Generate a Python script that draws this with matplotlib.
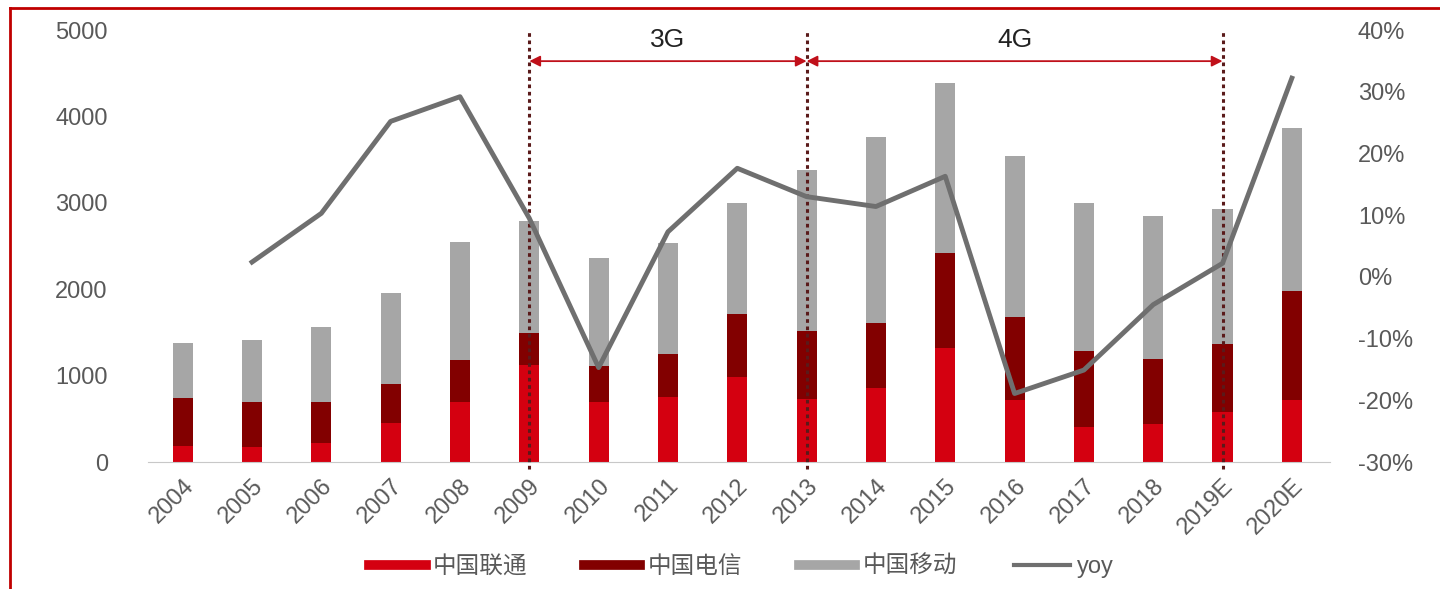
import matplotlib
matplotlib.use("Agg")
import matplotlib.pyplot as plt
import numpy as np
from matplotlib.lines import Line2D

plt.rcParams["font.family"] = ["Liberation Sans", "Noto Sans CJK SC", "DejaVu Sans"]

years = ["2004", "2005", "2006", "2007", "2008", "2009", "2010", "2011", "2012",
         "2013", "2014", "2015", "2016", "2017", "2018", "2019E", "2020E"]
unicom = [180, 170, 216, 448, 694, 1123, 698, 756, 988, 725, 853, 1316, 718, 409, 440, 582, 718]
telecom = [557, 521, 475, 455, 487, 374, 413, 494, 721, 795, 752, 1103, 956, 880, 748, 780, 1265]
mobile = [644, 721, 868, 1049, 1365, 1292, 1254, 1288, 1285, 1860, 2160, 1964, 1871, 1713, 1663, 1562, 1879]
yoy = [np.nan, 2.4, 10.3, 25.2, 29.2, 9.5, -14.7, 7.3, 17.6, 13.0, 11.4, 16.3, -18.9, -15.1, -4.5, 2.2, 32.2]

phase_marks = ["2009", "2013", "2019E"]
phase_labels = ["3G", "4G"]

c_unicom = "#D40010"
c_telecom = "#820000"
c_mobile = "#A6A6A6"
c_line = "#6F6F6F"
c_tick = "#595959"

fig = plt.figure(figsize=(14.4, 5.89), dpi=100)
ax = fig.add_axes([0.1028, 0.2156, 0.8208, 0.7334])
ax2 = ax.twinx()

x = np.arange(len(years))
w = 0.29
u = np.array(unicom)
t = np.array(telecom)
m = np.array(mobile)
ax.bar(x, u, w, color=c_unicom, zorder=2)
ax.bar(x, t, w, bottom=u, color=c_telecom, zorder=2)
ax.bar(x, m, w, bottom=u + t, color=c_mobile, zorder=2)

ax.set_xlim(-0.5, len(years) - 0.45)
ax.set_ylim(0, 5000)
ax.set_yticks(range(0, 5001, 1000))
ax.set_xticks(x)
ax.set_xticklabels(years, rotation=45, ha="right", rotation_mode="anchor")
ax.tick_params(axis="x", length=0, labelsize=17, labelcolor=c_tick, pad=9)
ax.tick_params(axis="y", length=0, labelsize=17, labelcolor=c_tick, pad=29)
for s in ["top", "left", "right"]:
    ax.spines[s].set_visible(False)
ax.spines["bottom"].set_color("#C8C8C8")

ax2.plot(x, yoy, color=c_line, lw=3.5, zorder=3)
ax2.set_ylim(-30, 40)
ax2.set_yticks(range(-30, 41, 10))
ax2.set_yticklabels([f"{v}%" for v in range(-30, 41, 10)])
ax2.tick_params(axis="y", length=0, labelsize=17, labelcolor=c_tick, pad=20)
for s in ax2.spines.values():
    s.set_visible(False)

# phase markers
pos = [years.index(p) for p in phase_marks]
for p in pos:
    ax.plot([p, p], [-80, 5000], color="#5A1A1A", lw=2.2, ls=(0, (1.2, 1.2)),
            zorder=4, clip_on=False)
for i, lab in enumerate(phase_labels):
    a, b = pos[i], pos[i + 1]
    ax.annotate("", xy=(b, 4640), xytext=(a, 4640),
                arrowprops=dict(arrowstyle="<|-|>", color="#C0101A", lw=1.3,
                                mutation_scale=16, shrinkA=0, shrinkB=0), zorder=5)
    ax.text((a + b) / 2, 4880, lab, ha="center", va="center", fontsize=19,
            color="#222222", zorder=5)

handles = [
    Line2D([], [], color=c_unicom, lw=7),
    Line2D([], [], color=c_telecom, lw=7),
    Line2D([], [], color=c_mobile, lw=7),
    Line2D([], [], color=c_line, lw=3),
]
labels = ["中国联通", "中国电信", "中国移动", "yoy"]
leg = fig.legend(handles, labels, loc="center", bbox_to_anchor=(0.515, 0.037), ncol=4,
                 frameon=False, fontsize=17, handlelength=2.4, handletextpad=0.3,
                 columnspacing=2.4)
for txt in leg.get_texts():
    txt.set_color(c_tick)

# red frame on top and left edges
fig.add_artist(Line2D([10 / 1440, 1], [1 - 8 / 589, 1 - 8 / 589], color="#C00000", lw=2,
                      transform=fig.transFigure))
fig.add_artist(Line2D([10 / 1440, 10 / 1440], [0, 1 - 8 / 589], color="#C00000", lw=2,
                      transform=fig.transFigure))

fig.savefig("out.png", dpi=100)
